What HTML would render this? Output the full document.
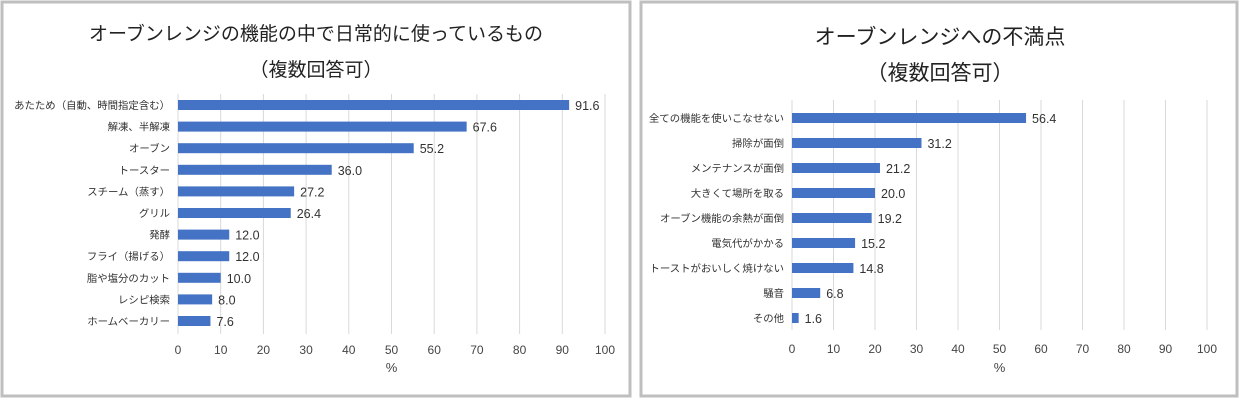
<!DOCTYPE html>
<html><head><meta charset="utf-8"><style>
body{margin:0;width:1240px;height:402px;background:#fff;overflow:hidden;font-family:"Liberation Sans","Noto Sans CJK JP",sans-serif}
svg{display:block}
</style></head><body>
<svg id="s" width="1240" height="402" xmlns="http://www.w3.org/2000/svg">
<rect x="2" y="2" width="628" height="394" fill="#fff" stroke="#bfbfbf" stroke-width="3"/>
<rect x="641" y="2" width="596" height="394" fill="#fff" stroke="#bfbfbf" stroke-width="3"/>
<text x="316" y="40" text-anchor="middle" font-size="19" fill="#222">オーブンレンジの機能の中で日常的に使っているもの</text>
<text x="316" y="76" text-anchor="middle" font-size="19" fill="#222">（複数回答可）</text>
<text x="940" y="44" text-anchor="middle" font-size="21" fill="#222">オーブンレンジへの不満点</text>
<text x="940" y="80" text-anchor="middle" font-size="21" fill="#222">（複数回答可）</text>
</svg>
<script>
const leftCategories=["あたため（自動、時間指定含む）","解凍、半解凍","オーブン","トースター","スチーム（蒸す）","グリル","発酵","フライ（揚げる）","脂や塩分のカット","レシピ検索","ホームベーカリー"];
const leftValues=[91.6,67.6,55.2,36.0,27.2,26.4,12.0,12.0,10.0,8.0,7.6];
const rightCategories=["全ての機能を使いこなせない","掃除が面倒","メンテナンスが面倒","大きくて場所を取る","オーブン機能の余熱が面倒","電気代がかかる","トーストがおいしく焼けない","騒音","その他"];
const rightValues=[56.4,31.2,21.2,20.0,19.2,15.2,14.8,6.8,1.6];
const tickValues=[0,10,20,30,40,50,60,70,80,90,100];
const svg=document.getElementById('s');
const NS='http://www.w3.org/2000/svg';
function mk(tag,attrs,txt){const e=document.createElementNS(NS,tag);for(const k in attrs)e.setAttribute(k,attrs[k]);if(txt!==undefined)e.textContent=txt;svg.appendChild(e);return e;}
function chart(prefix,cats,vals,x0,x1,yFirst,yLast,gTop,gBot,tickY,pctY){
  const xs=v=>x0+(x1-x0)*v/100;
  const step=(yLast-yFirst)/(cats.length-1);
  const ys=i=>yFirst+i*step;
  tickValues.forEach(t=>{
    const g=mk('line',{x1:xs(t),x2:xs(t),y1:gTop,y2:gBot,stroke:'#d9d9d9','stroke-width':1});
    
    
    const tl=mk('text',{x:xs(t),y:tickY,'text-anchor':'middle','font-size':12,fill:'#444'},String(t));
    
    
  });
  const p=mk('text',{x:(x0+x1)/2,y:pctY,'text-anchor':'middle','font-size':13,fill:'#444'},'%');
  
  
  cats.forEach((c,i)=>{
    const y=ys(i);
    const b=mk('rect',{x:xs(0),y:y-5,width:xs(vals[i])-xs(0),height:10,fill:'#4472c4'});
    
    
    const l=mk('text',{x:x0-8,y:y+4,'text-anchor':'end','font-size':10.4,fill:'#333'},c);
    
    
    const v=mk('text',{x:xs(vals[i])+6,y:y+5,'font-size':12.5,fill:'#333'},vals[i].toFixed(1));
    
    
  });
}
chart('left',leftCategories,leftValues,178,605,105,321,94,334,354,372);
chart('right',rightCategories,rightValues,792,1207,118,318,100,330,353,372);
</script>
</body></html>
